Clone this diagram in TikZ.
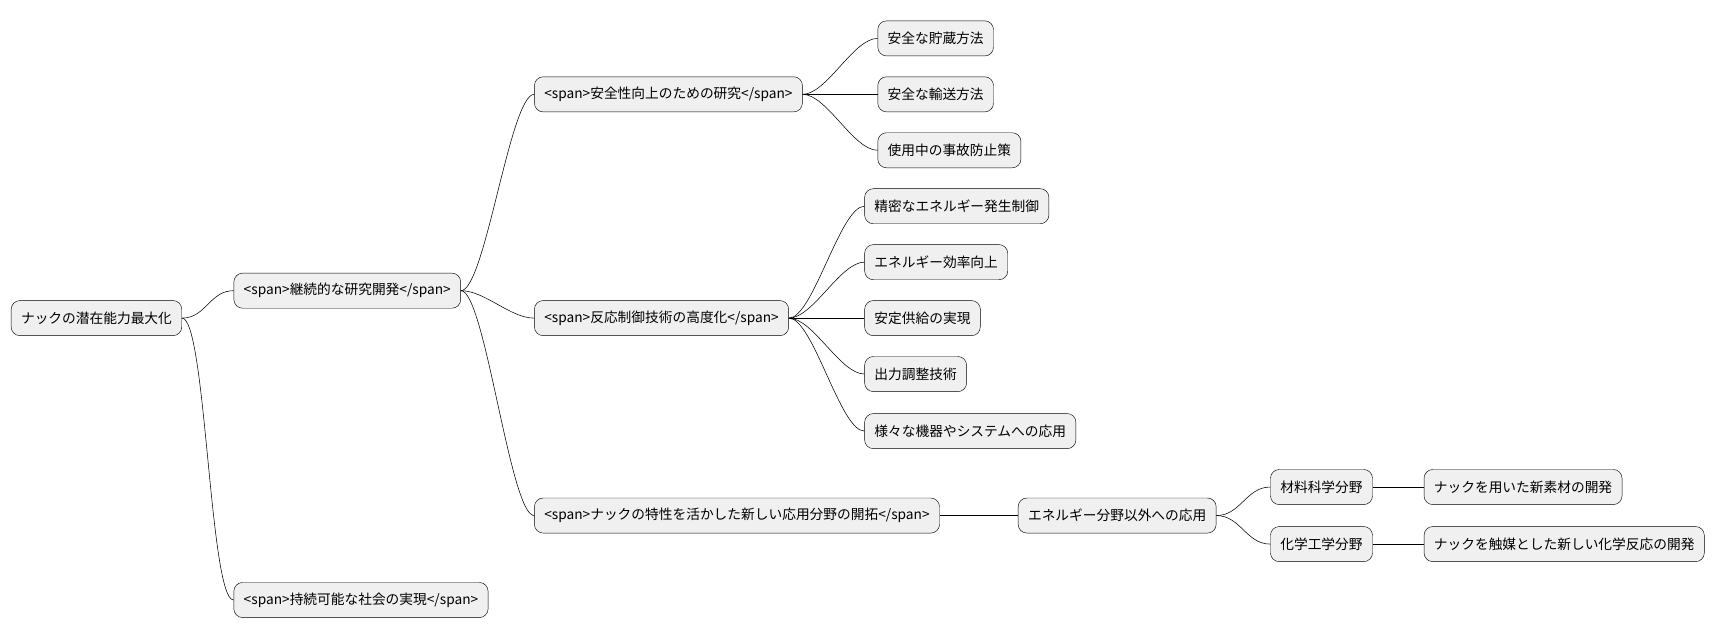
\documentclass[tikz,border=0pt]{standalone}
\usepackage{fontspec}
\setmainfont{Noto Sans CJK JP}
\begin{document}
\begin{tikzpicture}[x=1pt,y=-1pt]
			\tikzstyle{topic}=[draw=black,fill=black!6,rounded corners=8pt,anchor=west,minimum height=32pt,inner xsep=9pt,font=\fontsize{12.5}{15}\selectfont]
			\tikzstyle{link}=[black,line width=0.5pt]
			\useasboundingbox (0,0) rectangle (1568,583);
			\node [topic] (root) at (10,290) {ナックの潜在能力最大化};
			\node [topic] (dev) at (213,265) {<span>継続的な研究開発</span>};
			\node [topic] (soc) at (213,547) {<span>持続可能な社会の実現</span>};
			\node [topic] (safe) at (487,86) {<span>安全性向上のための研究</span>};
			\node [topic] (ctrl) at (487,290) {<span>反応制御技術の高度化</span>};
			\node [topic] (app) at (487,470) {<span>ナックの特性を活かした新しい応用分野の開拓</span>};
			\node [topic] (store) at (800,35) {安全な貯蔵方法};
			\node [topic] (move) at (800,86) {安全な輸送方法};
			\node [topic] (acc) at (800,137) {使用中の事故防止策};
			\node [topic] (prec) at (788,188) {精密なエネルギー発生制御};
			\node [topic] (eff) at (788,239) {エネルギー効率向上};
			\node [topic] (supply) at (788,290) {安定供給の実現};
			\node [topic] (out) at (788,341) {出力調整技術};
			\node [topic] (sys) at (788,393) {様々な機器やシステムへの応用};
			\node [topic] (nonen) at (928,470) {エネルギー分野以外への応用};
			\node [topic] (mat) at (1158,444) {材料科学分野};
			\node [topic] (chem) at (1158,496) {化学工学分野};
			\node [topic] (newmat) at (1298,444) {ナックを用いた新素材の開発};
			\node [topic] (cat) at (1298,496) {ナックを触媒とした新しい化学反応の開発};
			% branches
			\foreach \p/\c in {root/dev,root/soc,dev/safe,dev/ctrl,dev/app,safe/store,safe/move,safe/acc,ctrl/prec,ctrl/eff,ctrl/supply,ctrl/out,ctrl/sys,app/nonen,nonen/mat,nonen/chem,mat/newmat,chem/cat}
				\draw [link] (\p.east) .. controls +(22,0) and +(-22,0) .. (\c.west);
\end{tikzpicture}
\end{document}
